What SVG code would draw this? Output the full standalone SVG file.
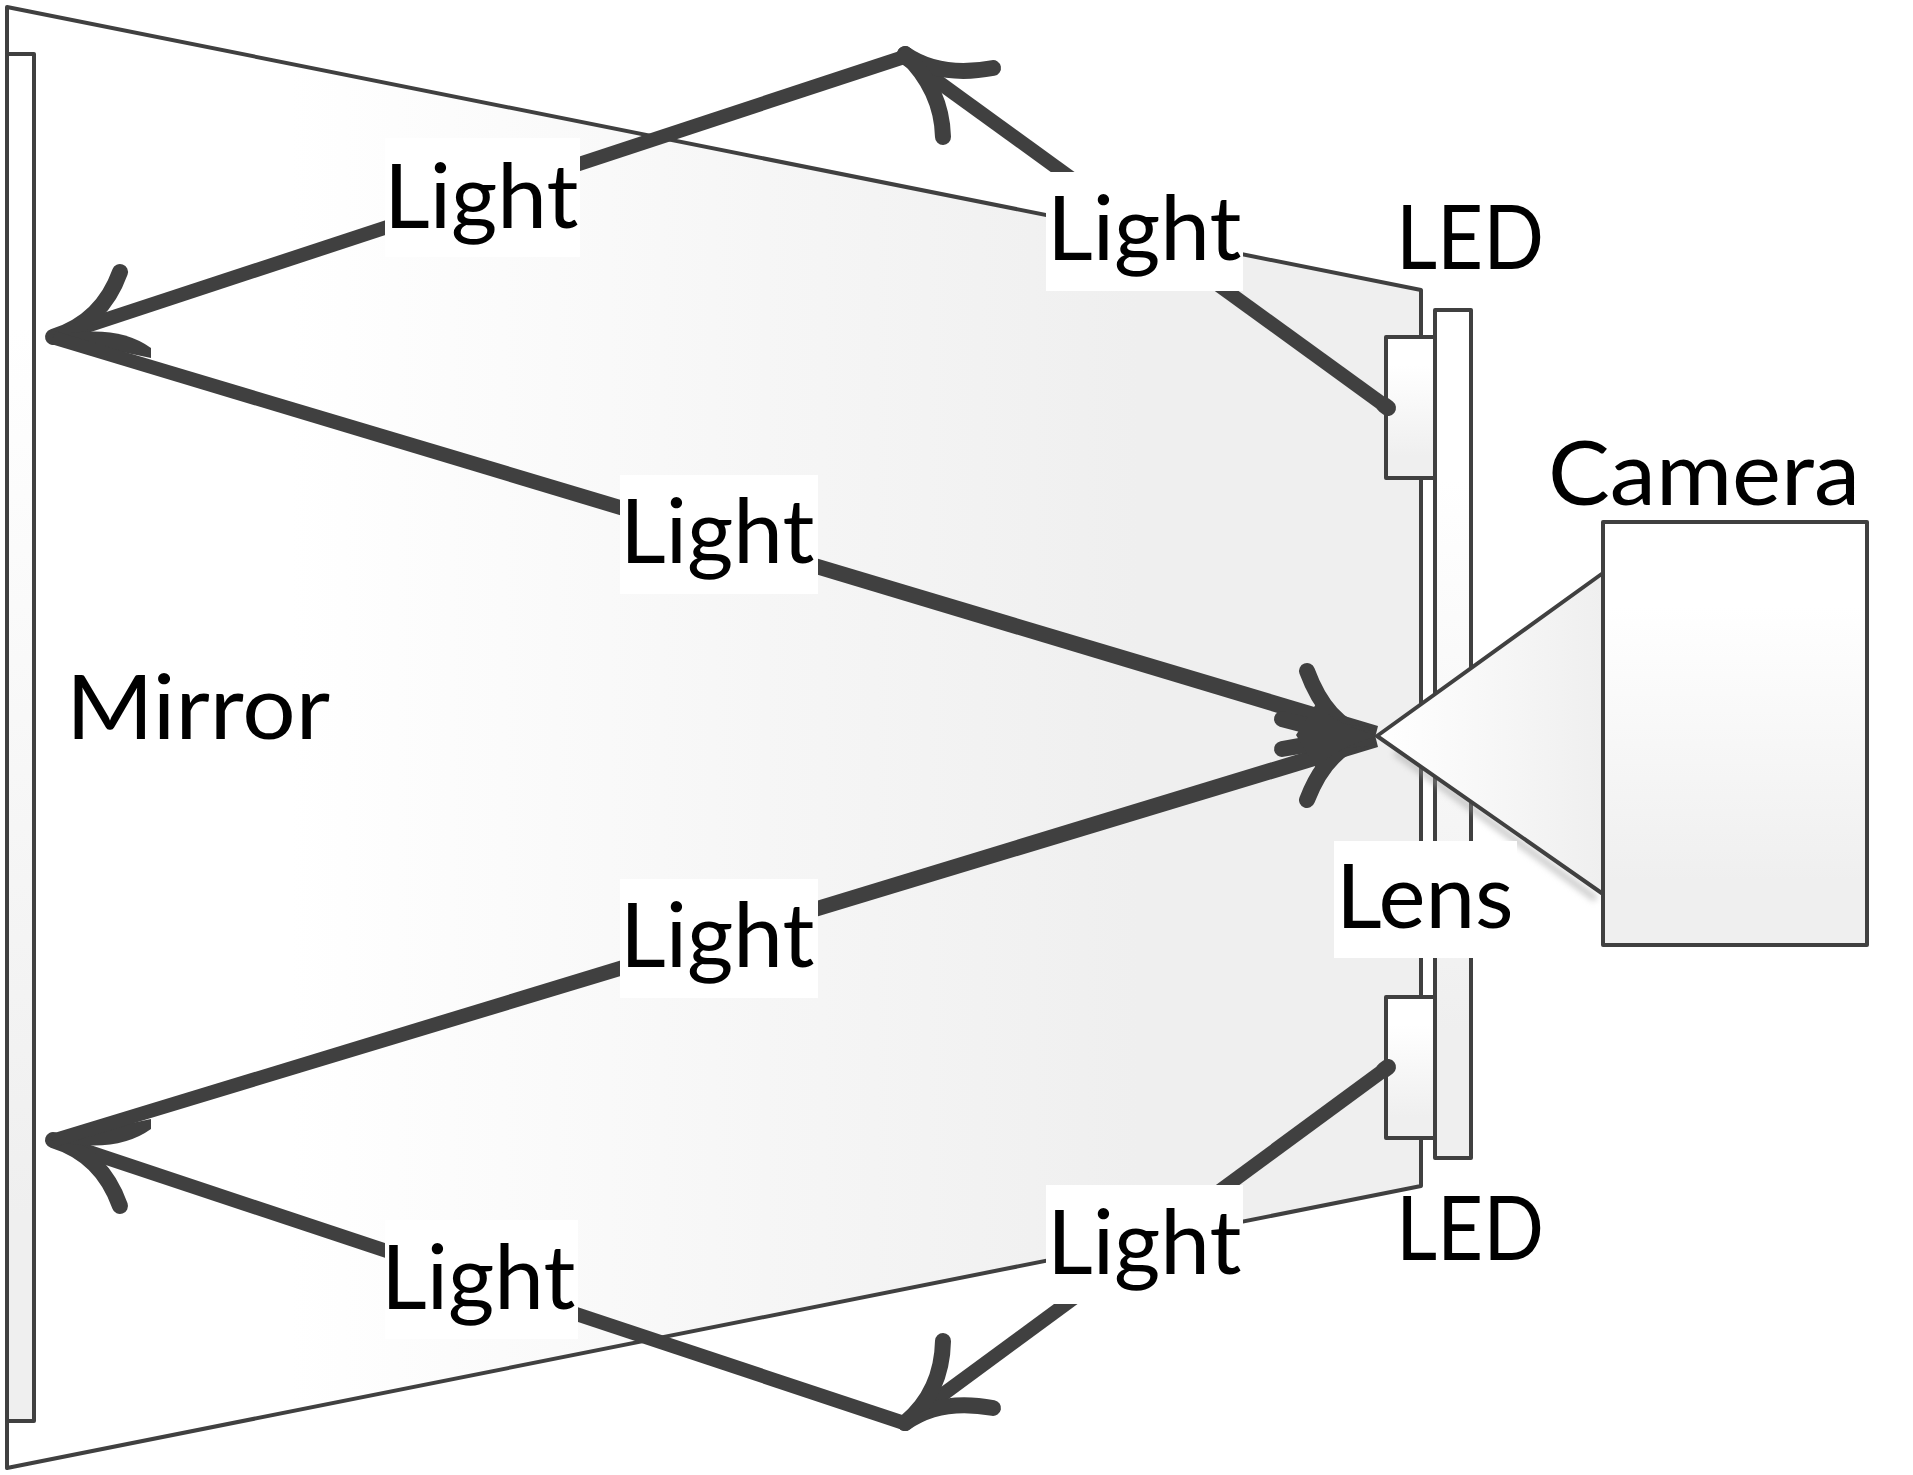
<svg xmlns="http://www.w3.org/2000/svg" width="1913" height="1475" viewBox="0 0 1913 1475">
<style>
.s{stroke:#404040;stroke-width:4;stroke-linejoin:round}
.r{fill:none;stroke:#404040;stroke-width:14;stroke-linecap:butt}
.c{fill:#404040;stroke:none}
.h{fill:none;stroke:#404040;stroke-width:16;stroke-linecap:round}
.w{fill:#404040;stroke:none}
.b{fill:#fff}
text{font-family:"Lato","Carlito","Open Sans",sans-serif;font-size:89px;fill:#000}
</style>
<defs>
<linearGradient id="gh" x1="0" y1="0" x2="1" y2="0"><stop offset="0" stop-color="#fff"/><stop offset="0.2" stop-color="#fff"/><stop offset="0.8" stop-color="#efefef"/><stop offset="1" stop-color="#efefef"/></linearGradient>
<linearGradient id="gl" x1="0" y1="0" x2="1" y2="0"><stop offset="0" stop-color="#fff"/><stop offset="1" stop-color="#efefef"/></linearGradient>
<linearGradient id="gv" x1="0" y1="0" x2="0" y2="1"><stop offset="0" stop-color="#fff"/><stop offset="0.2" stop-color="#fff"/><stop offset="0.85" stop-color="#efefef"/><stop offset="1" stop-color="#efefef"/></linearGradient>
<filter id="blur" x="-20%" y="-20%" width="140%" height="140%"><feGaussianBlur stdDeviation="3"/></filter>
</defs>
<g id="beam"><polygon class="s" points="7,7 1421,290 1421,1186 7,1468" fill="url(#gh)"/></g>
<g id="mirror"><rect class="s" x="7" y="54" width="27" height="1367" fill="url(#gv)"/></g>
<g id="board"><rect class="s" x="1435" y="310" width="36" height="848" fill="url(#gv)"/></g>
<g id="led-top"><rect class="s" x="1386" y="337" width="49" height="141" fill="url(#gv)"/></g>
<g id="led-bottom"><rect class="s" x="1386" y="997" width="49" height="141" fill="url(#gv)"/></g>
<g id="lens">
<polyline points="1395,752 1596,899" fill="none" stroke="#999" stroke-width="7" opacity=".5" filter="url(#blur)"/>
<polygon class="s" points="1377,736 1603,573 1603,894" fill="url(#gl)"/>
</g>
<g id="camera"><rect class="s" x="1603" y="522" width="264" height="423" fill="url(#gv)"/></g>
<g id="connectors">
<path class="r" d="M1388,408L904,57"/>
<path class="h" d="M1388,408L1384,405"/>
<path class="h" d="M905,54Q940,78 993,68"/>
<path class="h" d="M905,54Q942,90 943,137"/>
<path class="r" d="M904,57L53,337"/>
<path class="h" d="M53,337Q102,322 120,272"/>
<path class="w" d="M50,337Q115,322 151,348L151,358Z"/>
<polygon class="c" points="55,331 1378,726 1374,742 51,344"/>
<path class="h" d="M1366,735Q1327,725 1307,671"/>
<path class="h" d="M1366,735Q1320,730 1282,719"/>
<path class="r" d="M1388,1067L904,1423"/>
<path class="h" d="M1388,1067L1384,1070"/>
<path class="h" d="M905,1423Q940,1398 993,1408"/>
<path class="h" d="M905,1423Q942,1392 943,1341"/>
<path class="r" d="M904,1423L53,1140"/>
<path class="h" d="M53,1140Q102,1155 120,1206"/>
<path class="w" d="M50,1140Q115,1155 151,1129L151,1119Z"/>
<polygon class="c" points="51,1134 1374,731 1378,747 55,1147"/>
<path class="h" d="M1366,738Q1327,748 1307,800"/>
<path class="h" d="M1366,738Q1320,742 1282,749"/>
<path class="w" d="M1378,736Q1335,724 1316,704L1296,735L1316,768Q1335,748 1378,736Z"/>
</g>
<g id="label-light-1"><rect class="b" x="385" y="138" width="195" height="119"/><text x="384" y="228">Light</text></g>
<g id="label-light-2"><rect class="b" x="1046" y="172" width="197" height="119"/><text x="1047" y="260">Light</text></g>
<g id="label-light-3"><rect class="b" x="620" y="475" width="198" height="119"/><text x="620" y="563">Light</text></g>
<g id="label-light-4"><rect class="b" x="620" y="879" width="198" height="119"/><text x="620" y="967">Light</text></g>
<g id="label-light-5"><rect class="b" x="385" y="1220" width="193" height="119"/><text x="381" y="1309">Light</text></g>
<g id="label-light-6"><rect class="b" x="1046" y="1185" width="197" height="119"/><text x="1047" y="1274">Light</text></g>
<g id="label-lens"><rect class="b" x="1334" y="841" width="183" height="117"/><text x="1336" y="928">Lens</text></g>
<g id="label-led-top"><text x="1396" y="269" textLength="148" lengthAdjust="spacingAndGlyphs">LED</text></g>
<g id="label-led-bottom"><text x="1396" y="1260" textLength="148" lengthAdjust="spacingAndGlyphs">LED</text></g>
<g id="label-camera"><text x="1548" y="505" textLength="312" lengthAdjust="spacingAndGlyphs">Camera</text></g>
<g id="label-mirror"><text x="66" y="739" textLength="264" lengthAdjust="spacingAndGlyphs">Mirror</text></g>
</svg>
